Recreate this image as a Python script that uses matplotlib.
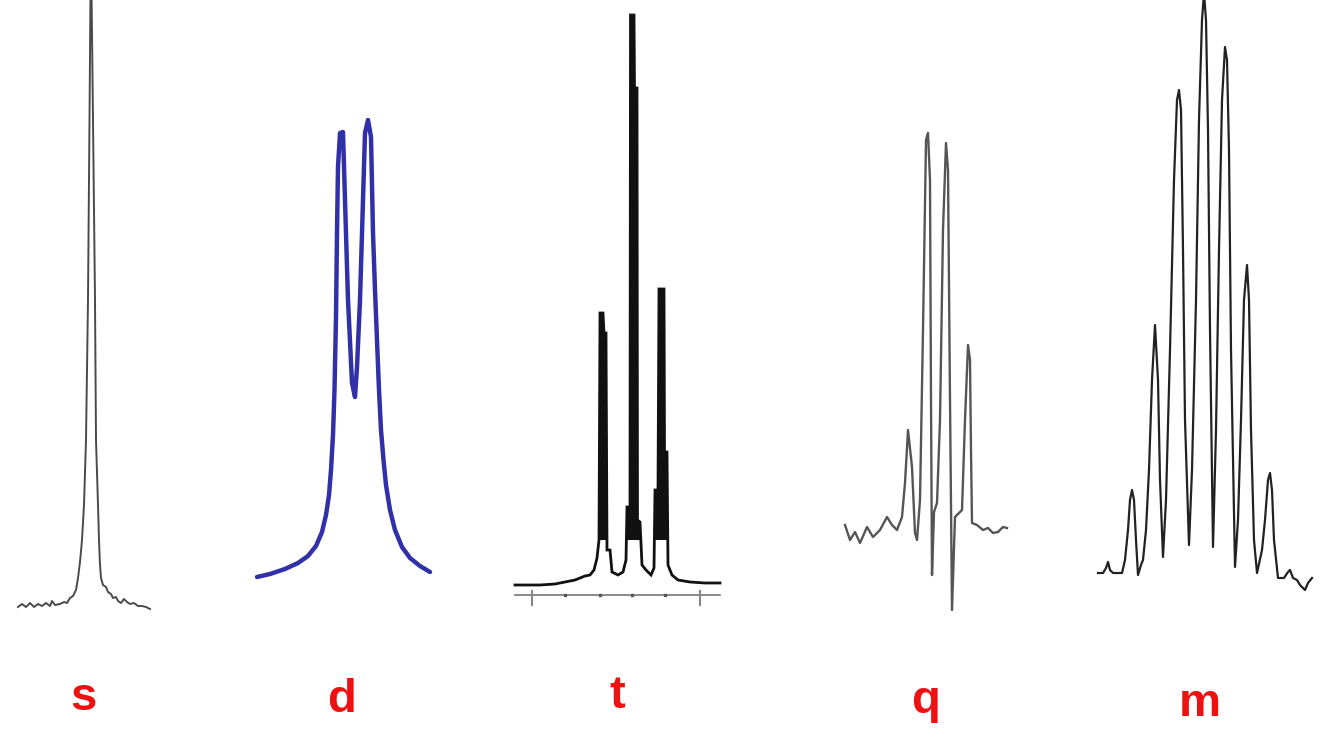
import matplotlib
matplotlib.use("Agg")
import matplotlib.pyplot as plt

# ---------------- data ----------------
# each spectrum: shift (horizontal offset, arbitrary units) and intensity (baseline = 0)
labels = ["s", "d", "t", "q", "m"]

s_shift = [0, 4, 8, 12, 16, 20, 24, 28, 32, 34, 37, 42, 46, 49, 52, 55, 58, 60, 62, 64, 66, 68, 70,
           71.5, 72.5, 73.5, 75, 77, 78, 80, 81, 82, 83, 85, 88, 90, 93, 95, 98, 100, 103, 106, 109,
           112, 116, 120, 124, 128, 132]
s_int = [-2, 1, -2, 2, -2, 1, -1, 2, -1, 4, 0, 1, 3, 2, 7, 9, 15, 27, 43, 65, 100, 165, 305,
         485, 615, 615, 485, 305, 165, 100, 65, 40, 27, 20, 18, 13, 11, 7, 8, 4, 2, 6, 3,
         1, 2, -1, -1, -2, -4]

d_shift = [0, 13, 28, 41, 51, 59, 65, 69, 72, 74, 76, 77.5, 79, 80, 81, 83, 86, 88, 91, 95, 98,
           100, 103, 106, 108, 111, 114, 116, 118, 120, 122, 124, 126.5, 129, 133, 138, 145, 153,
           163, 173]
d_int = [0, 3, 8, 14, 21, 31, 45, 62, 82, 107, 142, 187, 260, 344, 410, 444, 445, 377, 277, 194,
         180, 210, 277, 377, 444, 457, 440, 344, 287, 237, 187, 147, 117, 92, 67, 47, 30, 19,
         11, 5]

t_shift = [0, 10, 25, 40, 50, 60, 65, 70, 75, 79, 82, 84, 85, 88, 89, 91, 92, 95, 97, 103, 108, 111,
           112, 115, 115.5, 119, 119.5, 122, 122.5, 125, 127, 131, 136, 139, 140, 143, 144, 149,
           149.5, 152, 153, 157, 163, 175, 190, 205]
t_int = [0, 0, 0, 1, 3, 5, 7, 9, 10, 15, 27, 45, 272, 272, 252, 252, 35, 35, 13, 10, 13, 25,
         78, 78, 570, 570, 497, 497, 65, 63, 20, 15, 10, 17, 95, 95, 296, 296,
         133, 133, 20, 10, 5, 3, 2, 2]
t_ticks_major = [17, 185]
t_ticks_minor = [50, 85, 117, 150]

q_shift = [0, 5, 10, 15, 22, 28, 35, 42, 47, 52, 57, 60, 63, 67, 70, 72, 75, 78, 81, 83, 85, 86, 87,
           89, 92, 95, 98, 101, 103, 105, 107, 110, 117, 120, 123, 125, 126, 127, 132, 138, 143,
           148, 153, 158, 162]
q_int = [5, -10, -2, -13, 3, -7, 0, 13, 5, 0, 13, 47, 100, 63, -3, -10, 30, 200, 390, 397, 350, 130,
         -45, 18, 27, 110, 300, 387, 360, 130, -80, 13, 20, 110, 185, 170, 80, 7, 5, 0, 2,
         -3, -2, 3, 2]

m_shift = [0, 5, 8, 10, 12, 15, 24, 27, 30, 32, 34, 36, 38, 40, 43, 45, 48, 51, 54, 57, 60, 62, 65,
           68, 72, 76, 79, 81, 83, 85, 87, 91, 94, 98, 101, 104, 106, 108, 110, 112, 115, 118,
           121, 124, 127, 129, 131, 133, 137, 140, 143, 146, 149, 151, 153, 156, 159, 164, 167,
           170, 172, 174, 176, 180, 186, 190, 192, 195, 199, 202, 207, 210, 214]
m_int = [0, 0, 5, 11, 3, 0, 0, 13, 43, 73, 83, 73, 33, -2, 8, 13, 43, 103, 193, 248, 193, 93, 16,
         73, 223, 393, 473, 483, 463, 323, 153, 28, 103, 273, 453, 553, 580, 553, 443, 243, 26, 143,
         323, 473, 526, 513, 423, 223, 6, 53, 153, 273, 308, 273, 143, 33, 0, 23, 53,
         93, 100, 83, 33, -5, -5, 1, 3, -5, -7, -12, -17, -10, -5]

# ---------------- layout / style ----------------
FW, FH = 1334, 751
fig = plt.figure(figsize=(FW / 100, FH / 100), dpi=100)
fig.patch.set_facecolor("white")


def panel(x0, width, base):
    ax = fig.add_axes([x0 / FW, 0, width / FW, 1])
    ax.set_xlim(0, width)
    ax.set_ylim(base - FH, base)
    ax.axis("off")
    return ax


ax_s = panel(18, 134, 605)
ax_s.plot(s_shift, s_int, color="#4a4a4a", lw=1.4, clip_on=False, solid_joinstyle="round")

ax_d = panel(257, 175, 577)
ax_d.plot(d_shift, d_int, color="#3030a8", lw=3.2, clip_on=False, solid_joinstyle="round",
          solid_capstyle="round")

ax_t = panel(515, 207, 585)
ax_t.plot(t_shift, t_int, color="#111111", lw=2.0, clip_on=False, solid_joinstyle="miter")
ax_t.fill_between(t_shift, t_int, 45, where=[v > 40 for v in t_int], color="#111111", lw=0)
ax_t.plot([0, 205], [-10, -10], color="#777777", lw=1.2, clip_on=False)
for tk in t_ticks_major:
    ax_t.plot([tk, tk], [-6, -20], color="#888888", lw=1.5, clip_on=False)
for tk in t_ticks_minor:
    ax_t.plot([tk], [-10], marker="s", ms=2, color="#555555", clip_on=False)

ax_q = panel(845, 164, 530)
ax_q.plot(q_shift, q_int, color="#555555", lw=1.7, clip_on=False, solid_joinstyle="round")

ax_m = panel(1098, 216, 573)
ax_m.plot(m_shift, m_int, color="#222222", lw=1.6, clip_on=False, solid_joinstyle="round")

label_x = [84, 342, 617, 926, 1200]
label_base = [710, 712, 708, 713, 716]
for lab, lx, ly in zip(labels, label_x, label_base):
    fig.text(lx / FW, 1 - ly / FH, lab, color="#ee1111", fontsize=34, fontweight="bold",
             family="Liberation Sans", ha="center", va="baseline")

fig.savefig("out.png", dpi=100, facecolor="white")
